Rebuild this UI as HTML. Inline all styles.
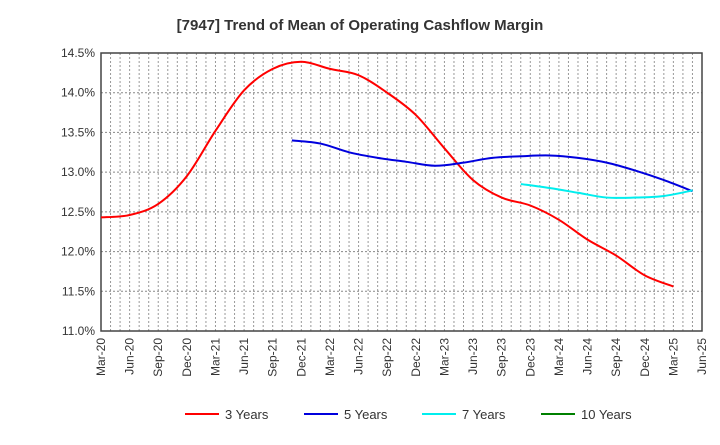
<!DOCTYPE html>
<html><head><meta charset="utf-8"><style>
body{margin:0;background:#fff;font-family:"Liberation Sans",sans-serif}
</style></head><body>
<svg id="c" width="720" height="440" xmlns="http://www.w3.org/2000/svg" font-family="Liberation Sans, sans-serif">
<text x="360" y="30" text-anchor="middle" font-size="15" font-weight="bold" fill="#333">[7947]  Trend of Mean of Operating Cashflow Margin</text>
<g id="grid"></g><g id="axes"></g><g id="series"></g><g id="legend"></g>
</svg>
<script>
const xLabels=["Mar-20","Jun-20","Sep-20","Dec-20","Mar-21","Jun-21","Sep-21","Dec-21","Mar-22","Jun-22","Sep-22","Dec-22","Mar-23","Jun-23","Sep-23","Dec-23","Mar-24","Jun-24","Sep-24","Dec-24","Mar-25","Jun-25"];
const yTicks=[11.0,11.5,12.0,12.5,13.0,13.5,14.0,14.5];
const s3=[12.43,12.46,12.6,12.95,13.52,14.03,14.3,14.39,14.3,14.22,14.0,13.72,13.3,12.9,12.68,12.58,12.4,12.15,11.95,11.7,11.56];
const s5=[13.4,13.36,13.25,13.18,13.13,13.08,13.12,13.18,13.2,13.21,13.18,13.12,13.02,12.9,12.76];
const s5start=6.67;
const s7=[12.85,12.8,12.74,12.68,12.68,12.7,12.77];
const s7start=14.67;
const s10=[];
const L=101,R=702,T=53,B=331;
const xs=i=>L+(R-L)*i/(xLabels.length-1);
const ys=v=>B-(v-11)/(14.5-11)*(B-T);
const NS="http://www.w3.org/2000/svg";
function mk(p,t,a){const e=document.createElementNS(NS,t);for(const k in a)e.setAttribute(k,a[k]);p.appendChild(e);return e;}
const g=document.getElementById('grid'),ax=document.getElementById('axes'),se=document.getElementById('series'),lg=document.getElementById('legend');
for(let m=1;m<(xLabels.length-1)*3;m++){const x=L+(R-L)*m/((xLabels.length-1)*3);
const l=mk(g,'line',{x1:x,x2:x,y1:T,y2:B,stroke:'#999','stroke-dasharray':'2,2','stroke-width':1});

}
yTicks.forEach(v=>{const y=ys(v);
const l=mk(g,'line',{x1:L,x2:R,y1:y,y2:y,stroke:'#888','stroke-dasharray':'2,2','stroke-width':1});


const t=mk(ax,'text',{x:L-6,y:y+4,'text-anchor':'end','font-size':12,fill:'#333'});t.textContent=v.toFixed(1)+'%';

});
const box=mk(ax,'rect',{x:L,y:T,width:R-L,height:B-T,fill:'none',stroke:'#444','stroke-width':1.5});


xLabels.forEach((s,i)=>{const x=xs(i);
const t=mk(ax,'text',{transform:`translate(${x+4},${B+7}) rotate(-90)`,'text-anchor':'end','font-size':12,fill:'#333'});t.textContent=s;

});
function path(d,st){const p=d.map((v,i)=>[xs(st+i),ys(v)]);if(p.length<2)return '';let s=`M${p[0][0]},${p[0][1]}`;
for(let i=0;i<p.length-1;i++){const p0=p[i-1]||p[i],p1=p[i],p2=p[i+1],p3=p[i+2]||p2;
s+=` C${p1[0]+(p2[0]-p0[0])/6},${p1[1]+(p2[1]-p0[1])/6} ${p2[0]-(p3[0]-p1[0])/6},${p2[1]-(p3[1]-p1[1])/6} ${p2[0]},${p2[1]}`;}return s;}
[[s3,0,'#ff0000','series-3-years'],[s5,s5start,'#0000dd','series-5-years'],[s7,s7start,'#00eeee','series-7-years'],[s10,0,'#008000','series-10-years']].forEach(([d,st,c,n])=>{
if(d.length<2)return;
const pts=d.map((v,i)=>[st+i,v]);
const e=mk(se,'path',{d:path(d,0).replace(/[\d.]+,[\d.]+/g,m=>{const [a,b]=m.split(',').map(Number);return (a+(xs(st)-xs(0)))+','+b;}),fill:'none',stroke:c,'stroke-width':2});

});
[['3 Years','#ff0000',185],['5 Years','#0000dd',304],['7 Years','#00eeee',422],['10 Years','#008000',541]].forEach(([n,c,x])=>{
const l=mk(lg,'line',{x1:x,x2:x+34,y1:414,y2:414,stroke:c,'stroke-width':2});


const t=mk(lg,'text',{x:x+40,y:419,'font-size':13,fill:'#333'});t.textContent=n;

});
</script>
</body></html>
